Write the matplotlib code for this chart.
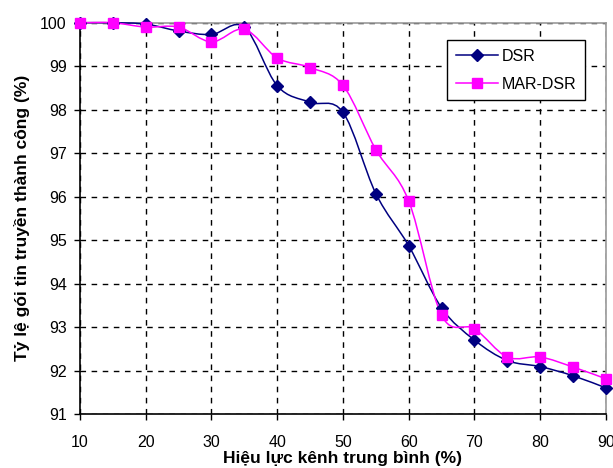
import matplotlib
matplotlib.use("Agg")
import matplotlib.pyplot as plt
from matplotlib.path import Path
from matplotlib.patches import PathPatch
from matplotlib.lines import Line2D

plt.rcParams['font.family'] = ['Liberation Sans', 'DejaVu Sans']

x_vals = [10, 15, 20, 25, 30, 35, 40, 45, 50, 55, 60, 65, 70, 75, 80, 85, 90]
dsr = [100.0, 100.0, 99.97, 99.81, 99.73, 99.9, 98.55, 98.17, 97.94, 96.07,
       94.87, 93.44, 92.70, 92.23, 92.09, 91.88, 91.60]
mar_dsr = [100.0, 100.0, 99.9, 99.9, 99.56, 99.85, 99.19, 98.97, 98.56, 97.08,
           95.9, 93.27, 92.96, 92.31, 92.31, 92.08, 91.81]
series_names = ["DSR", "MAR-DSR"]
x_ticks = [10, 20, 30, 40, 50, 60, 70, 80, 90]
y_ticks = [91, 92, 93, 94, 95, 96, 97, 98, 99, 100]
x_label = "Hiệu lực kênh trung bình (%)"
y_label = "Tỷ lệ gói tin truyền thành công (%)"


def smooth_path(xs, ys):
    pts = list(zip(xs, ys))
    verts = [pts[0]]
    codes = [Path.MOVETO]
    n = len(pts)
    for i in range(n - 1):
        p0 = pts[i - 1] if i > 0 else pts[i]
        p1 = pts[i]
        p2 = pts[i + 1]
        p3 = pts[i + 2] if i + 2 < n else pts[i + 1]
        c1 = (p1[0] + (p2[0] - p0[0]) / 6, p1[1] + (p2[1] - p0[1]) / 6)
        c2 = (p2[0] - (p3[0] - p1[0]) / 6, p2[1] - (p3[1] - p1[1]) / 6)
        verts += [c1, c2, p2]
        codes += [Path.CURVE4] * 3
    return Path(verts, codes)


fig = plt.figure(figsize=(6.13, 4.68), dpi=100)
ax = fig.add_axes([0.1305, 0.1154, 0.858, 0.836])

colors = ["#000080", "#FF00FF"]
markers = ["D", "s"]
msizes = [6, 7]
handles = []
for ys, c, m, ms, name in zip([dsr, mar_dsr], colors, markers, msizes, series_names):
    patch = PathPatch(smooth_path(x_vals, ys), facecolor='none', edgecolor=c,
                      lw=1.1, zorder=3, clip_on=False)
    ax.add_patch(patch)
    ax.plot(x_vals, ys, ls='none', marker=m, ms=ms, color=c, zorder=4, clip_on=False)
    handles.append(Line2D([], [], color=c, marker=m, ms=ms, lw=1.1, label=name))

ax.set_xlim(10, 90)
ax.set_ylim(91, 100)
ax.set_xticks(x_ticks)
ax.set_yticks(y_ticks)
ax.grid(True, color='black', ls=(0, (4, 4)), lw=1.0)
ax.set_axisbelow(True)
for s in ['top', 'right']:
    ax.spines[s].set_color('#999999')
    ax.spines[s].set_linewidth(1.2)
for s in ['left', 'bottom']:
    ax.spines[s].set_color('black')
    ax.spines[s].set_linewidth(1.2)
ax.tick_params(direction='out', length=4, width=1, labelsize=11.5, pad=5.5)
ax.tick_params(axis='x', pad=11)

ax.set_xlabel(x_label, fontsize=12.5, fontweight='bold', labelpad=1)
ax.set_ylabel(y_label, fontsize=12.5, fontweight='bold', labelpad=7)

leg = ax.legend(handles=handles, loc='upper right', bbox_to_anchor=(0.960, 0.956),
                borderaxespad=0, fontsize=11.5, frameon=True, fancybox=False,
                edgecolor='black', framealpha=1, handlelength=2.6,
                handletextpad=0.25, borderpad=0.55, labelspacing=0.8)
leg.get_frame().set_linewidth(1.0)

fig.savefig("out.png", dpi=100)
